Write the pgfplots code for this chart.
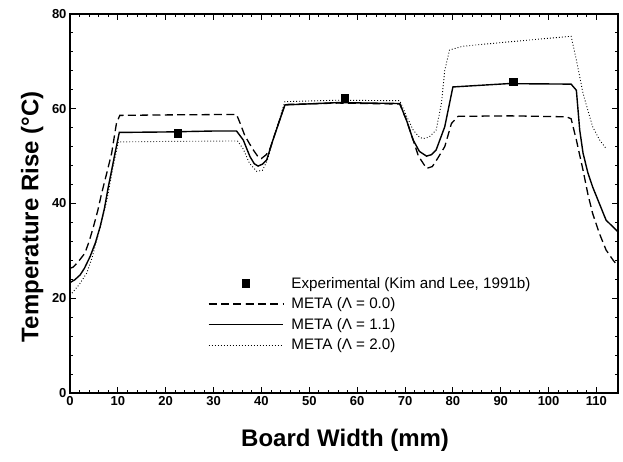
\documentclass[border=0pt]{standalone}
\usepackage{fontspec}
\setmainfont{Liberation Sans}
\usepackage{pgfplots}
\pgfplotsset{compat=1.18}
\pgfplotsset{
  linelegend/.style={legend image code/.code={\draw[mark repeat=2,mark phase=2,##1] plot coordinates {(0pt,0pt) (37pt,0pt) (74pt,0pt)}; \path (80pt,0pt);}},
}
\begin{document}
\begin{tikzpicture}
\begin{axis}[
  width=548pt, height=379pt, scale only axis,
  xmin=0, xmax=114.5, ymin=0, ymax=80,
  xtick={0,10,...,110}, ytick={0,20,...,80},
  minor x tick num=4, minor y tick num=4,
  tick align=inside, major tick length=6pt, minor tick length=3pt,
  axis line style={line width=2pt},
  every tick/.style={black, line width=1pt},
  tick label style={font=\fontsize{13}{15}\selectfont\bfseries},
  /pgf/number format/assume math mode=true,
  xlabel={Board Width (mm)},
  ylabel={Temperature Rise (°C)},
  label style={font=\fontsize{24}{28}\selectfont\bfseries},
  xlabel style={at={(axis description cs:0.502,-0.124)}, anchor=center},
  ylabel style={at={(axis description cs:-0.069,0.465)}, anchor=center},
  legend style={at={(axis cs:28.8,24.9)}, anchor=north west, draw=none, fill=none,
    inner sep=0pt, font=\fontsize{15.2}{18}\selectfont, row sep=4pt},
  legend cell align=left,
  linelegend,
]
\addplot[only marks, draw=none, mark=square*, mark size=3.9pt, mark options={draw=black, fill=black}]
  coordinates {(22.5,54.9) (57.4,62.2) (92.6,65.7)};
\addlegendentry{Experimental (Kim and Lee, 1991b)}
\addplot[black, line width=1.3pt, dash pattern=on 8pt off 4.3pt] coordinates {
(0,26.3) (0.7,26.6) (1.8,27.8) (3.1,29.5) (4.0,32.0) (4.9,35.1) (5.8,38.5) (6.6,42.1)
(7.7,46.5) (8.7,50.6) (9.7,56.9) (10.4,58.6) (20,58.7) (34.8,58.8) (35.6,56.8)
(36.5,54.4) (37.4,52.8) (38.3,51.3) (39.2,50.0) (40,49.5) (41,50.3) (41.8,51.6)
(43,55.2) (44.9,60.9) (56,61.2) (68.9,61.0) (70.3,57.6) (71.7,53.4) (72.8,50.0)
(74.5,47.4) (75.7,47.8) (76.8,49.5) (78.3,52.0) (79.7,56.9) (81.1,58.4) (92,58.5)
(103.7,58.3) (104.7,57.9) (105.8,53.4) (107.2,47.0) (108.2,42.0) (109.2,37.9)
(110.6,33.7) (112,30.2) (113.5,28.0) (114.5,26.8)};
\addlegendentry{META (Λ = 0.0)}
\addplot[black, line width=1.4pt] coordinates {
(0,23.3) (1,23.9) (2.1,24.9) (3,26.3) (4.2,28.8) (5.3,31.7) (6.3,35.1) (7.2,39.0)
(8.0,43.5) (8.8,47.5) (9.4,50.6) (10.3,55.0) (20,55.1) (30,55.3) (34.8,55.3)
(36.2,53.4) (37.6,49.9) (38.5,48.4) (39.3,47.9) (40.2,48.3) (41.1,49.2) (42.4,53.4)
(44.9,60.8) (56,61.3) (68.9,61.1) (70.3,57.6) (71.7,53.4) (73,51.0) (74.5,50.0)
(75.5,50.3) (76.5,51.3) (78.3,56.2) (80.0,64.6) (91.5,65.3) (104.7,65.2) (105.8,63.9)
(106.5,55.5) (107.2,50.6) (108.2,46.5) (109.2,43.5) (110.6,40.0) (112,36.5)
(113.5,35.0) (114.5,34.0)};
\addlegendentry{META (Λ = 1.1)}
\addplot[black, line width=0.9pt, dash pattern=on 0.9pt off 2.1pt] coordinates {
(0,20.6) (0.7,21.4) (2,23.0) (3.5,25.3) (4.6,28.5) (5.6,32.3) (6.7,36.5) (7.7,40.7)
(9.0,47.7) (10.1,53.0) (20,53.1) (35,53.2) (36.2,51.5) (37.5,48.5) (39,46.8)
(40.2,47.0) (41.2,49.0) (42.4,53.4) (44.9,61.5) (56,61.8) (68.9,61.7) (70.3,58.5)
(71.7,55.5) (73,54.0) (73.8,53.7) (75,54.0) (76.5,55.5) (77.6,61.1) (78.3,68.1)
(79.3,72.4) (82.1,73.2) (91.5,74.1) (104.7,75.3) (105.8,70.3) (107.2,63.2)
(109.2,56.2) (110.6,53.5) (112,51.6)};
\addlegendentry{META (Λ = 2.0)}
\end{axis}
\pgfresetboundingbox
\path[use as bounding box] ([xshift=-70pt,yshift=-69pt]current axis.south west) rectangle ([xshift=5pt,yshift=14pt]current axis.north east);
\end{tikzpicture}
\end{document}
